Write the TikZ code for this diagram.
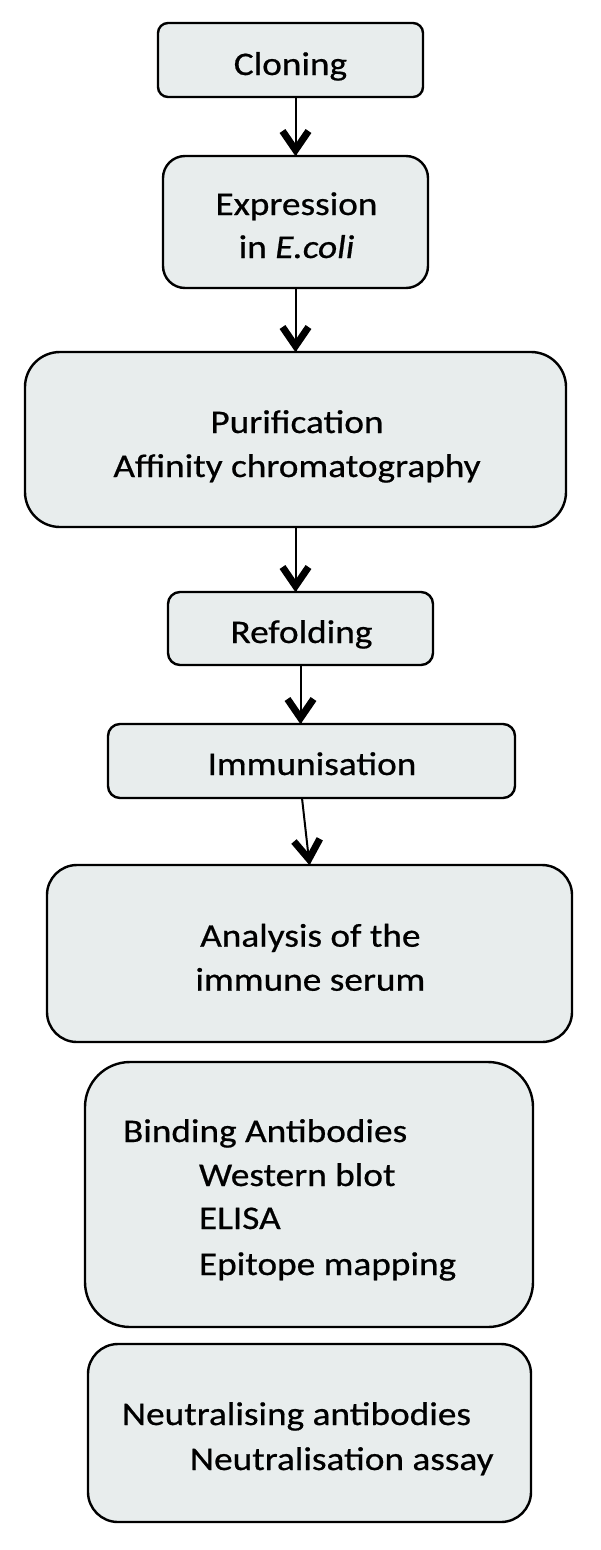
\documentclass[tikz,border=0pt]{standalone}
\usepackage{fontspec}
\setmainfont{Carlito}[FakeStretch=1.13,FakeBold=0.6]
\usetikzlibrary{calc}
\definecolor{boxfill}{RGB}{232,237,237}
\tikzset{
  stepbox/.style={draw=black, line width=2.4pt, fill=boxfill, inner sep=0pt, outer sep=0pt},
  lbl/.style={inner sep=0pt, outer sep=0pt, font=\fontsize{33}{44}\selectfont, text=black},
  arr/.style={line width=2pt},
  headline/.style={line width=7pt, line join=miter, line cap=butt},
  vhead/.pic={\draw[headline] (-13,-25) -- (0,-6) -- (13,-25);},
}
\begin{document}
\begin{tikzpicture}[x=1pt,y=-1pt]
\useasboundingbox (0,0) rectangle (600,1550);
% boxes
\node[stepbox, rounded corners=10pt, minimum width=265pt, minimum height=74pt] (clon) at (290.5,60) {};
\node[stepbox, rounded corners=22pt, minimum width=265pt, minimum height=132pt] (expr) at (295.5,222) {};
\node[stepbox, rounded corners=35pt, minimum width=541pt, minimum height=175pt] (puri) at (295.5,439.5) {};
\node[stepbox, rounded corners=12pt, minimum width=265pt, minimum height=73pt] (refo) at (300.5,628.5) {};
\node[stepbox, rounded corners=12pt, minimum width=407pt, minimum height=74pt] (immu) at (311.5,761) {};
\node[stepbox, rounded corners=30pt, minimum width=525pt, minimum height=177pt] (anal) at (309.5,953.5) {};
\node[stepbox, rounded corners=45pt, minimum width=448pt, minimum height=265pt] (bind) at (309,1194.5) {};
\node[stepbox, rounded corners=30pt, minimum width=443pt, minimum height=178pt] (neut) at (309.5,1433) {};
% texts
\node[lbl, anchor=base] (clonT) at (290.5,75) {Cloning};
\node[lbl, anchor=base] (exprT1) at (296.5,215) {Expression};
\node[lbl, anchor=base] (exprT2) at (296.5,258) {in \textit{E.coli}};
\node[lbl, anchor=base] (puriT1) at (297,433) {Purification};
\node[lbl, anchor=base] (puriT2) at (297,477) {Affinity chromatography};
\node[lbl, anchor=base] (refoT) at (301.5,643) {Refolding};
\node[lbl, anchor=base] (immuT) at (312,775) {Immunisation};
\node[lbl, anchor=base] (analT1) at (310.4,946.7) {Analysis of the};
\node[lbl, anchor=base] (analT2) at (310.4,990.7) {immune serum};
\node[lbl, anchor=base west] (bindT1) at (123,1142) {Binding Antibodies};
\node[lbl, anchor=base west] (bindT2) at (199,1186) {Western blot};
\node[lbl, anchor=base west] (bindT3) at (199,1229) {ELISA};
\node[lbl, anchor=base west] (bindT4) at (199,1275) {Epitope mapping};
\node[lbl, anchor=base west] (neutT1) at (122,1425) {Neutralising antibodies};
\node[lbl, anchor=base west] (neutT2) at (190,1470) {Neutralisation assay};
% connectors
\draw[arr] (clon.south -| expr.north) -- (expr.north);
\pic at (expr.north) {vhead};
\draw[arr] (expr.south) -- (puri.north);
\pic at (puri.north) {vhead};
\coordinate (refoIn) at (refo.north -| puri.south);
\draw[arr] (puri.south) -- (refoIn);
\pic at (refoIn) {vhead};
\coordinate (immuIn) at (refo.south |- immu.north);
\draw[arr] (refo.south) -- (immuIn);
\pic at (immuIn) {vhead};
\coordinate (immuOut) at ($(immu.south)+(-9.5,0)$);
\draw[arr] (immuOut) -- (anal.north);
\pic[rotate=6] at (anal.north) {vhead};
\end{tikzpicture}
\end{document}
